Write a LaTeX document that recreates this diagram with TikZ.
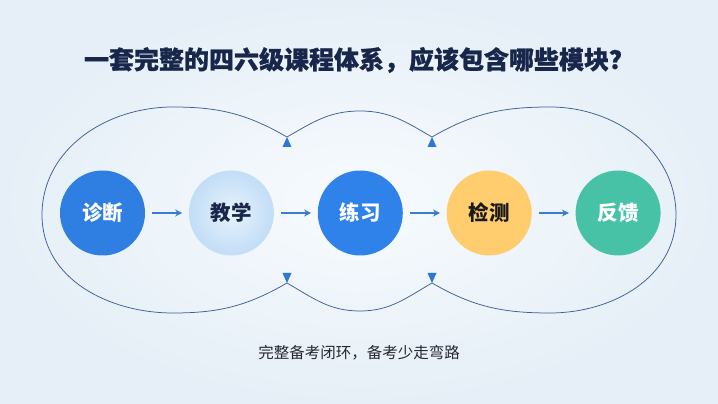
\documentclass[tikz,border=0pt]{standalone}
\usepackage{fontspec}
\setmainfont{Noto Sans CJK SC}
\usetikzlibrary{positioning,arrows.meta}

\definecolor{bgin}{HTML}{F7FBFE}
\definecolor{bgout}{HTML}{E6EFF7}
\definecolor{titleink}{HTML}{17264A}
\definecolor{noteink}{HTML}{26262E}
\definecolor{diagblue}{HTML}{2F7FE2}
\definecolor{teachin}{HTML}{E6F3FD}
\definecolor{teachout}{HTML}{C2DDF6}
\definecolor{practblue}{HTML}{2E82EA}
\definecolor{testyellow}{HTML}{FFCC6E}
\definecolor{feedteal}{HTML}{47C2A7}
\definecolor{loopblue}{HTML}{3E5E98}
\definecolor{flowblue}{HTML}{3A7BD5}
\definecolor{tipblue}{HTML}{2B78D6}

\begin{document}
\begin{tikzpicture}
[
x=1pt, y=1pt,
stagenode/.style={circle, minimum size=85pt, inner sep=0, text=white,
  font=\fontsize{20.5}{24}\selectfont\bfseries},
flowarrow/.style={-{Stealth[length=7pt,width=7pt]}, draw=flowblue, line width=1.2pt,
  shorten <=7pt, shorten >=6.5pt},
loopline/.style={draw=loopblue, line width=0.75pt},
node distance=43.5pt
]
\useasboundingbox (0,0) rectangle (718,404);
\shade[inner color=bgin, outer color=bgout] (0,0) rectangle (718,404);

\node (title) at (359,344) [text=titleink,
  font=\fontsize{25}{30}\selectfont\bfseries\addfontfeatures{FakeBold=1}]
  {一套完整的四六级课程体系，应该包含哪些模块？};

\node[stagenode, fill=diagblue] (diag) at (102.5,191) {诊断};
\node[stagenode, shade, inner color=teachin, outer color=teachout, text=titleink] (teach) [right=of diag] {教学};
\node[stagenode, fill=practblue] (pract) [right=of teach] {练习};
\node[stagenode, fill=testyellow, text=black!90] (test) [right=of pract] {检测};
\node[stagenode, fill=feedteal] (feed) [right=of test] {反馈};

\draw[flowarrow] (diag) -- (teach);
\draw[flowarrow] (teach) -- (pract);
\draw[flowarrow] (pract) -- (test);
\draw[flowarrow] (test) -- (feed);

% cusps of the two loops
\coordinate (t1) at (287,267);
\coordinate (t2) at (432,267);
\coordinate (b1) at (287,121);
\coordinate (b2) at (432,121);

\draw[loopline] (b1) to[out=210,in=0] (173,91) to[out=180,in=-90] (42,189)
  to[out=90,in=180] (173,297) to[out=0,in=150] (t1);
\draw[loopline] (t1) to[out=30,in=180] (360,293) to[out=0,in=150] (t2);
\draw[loopline] (t2) to[out=30,in=180] (550,297) to[out=0,in=90] (676,189)
  to[out=-90,in=0] (550,91) to[out=180,in=-30] (b2);
\draw[loopline] (b2) to[out=210,in=0] (360,93) to[out=180,in=-30] (b1);

\foreach \cusp/\dy in {t1/-1, t2/-1, b1/1, b2/1}
  \fill[tipblue] (\cusp) -- ++(-4.5,{10*\dy}) -- ++(9,0) -- cycle;

\node (note) at (359,51) [text=noteink, font=\fontsize{15.5}{18}\selectfont]
  {完整备考闭环，备考少走弯路};
\end{tikzpicture}
\end{document}
